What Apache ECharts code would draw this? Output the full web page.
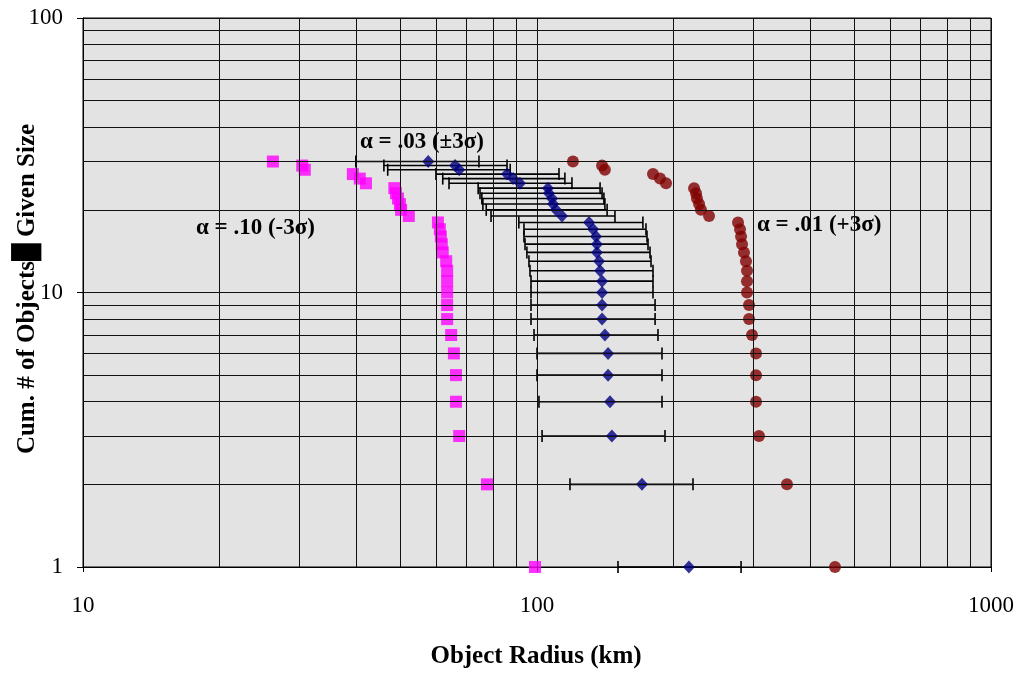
<!DOCTYPE html>
<html>
<head>
<meta charset="utf-8">
<script src="https://cdn.jsdelivr.net/npm/echarts@6/dist/echarts.min.js"></script>
<style>
html,body{margin:0;padding:0;background:#fff;}
#chart{width:1023px;height:675px;}
</style>
</head>
<body>
<div id="chart"></div>
<script>
// Cumulative number of objects (y values), largest count first
const cumCount = [30,29,28,27,26,25,24,23,22,21,20,19,18,17,16,15,14,13,12,11,10,9,8,7,6,5,4,3,2,1];
// alpha = .10 (-3 sigma) radii, km
const radiusA10 = [26.2,30.4,30.8,39.3,40.7,42.0,48.5,48.9,49.4,49.9,50.2,52.2,60.5,61.1,61.4,61.7,62.0,63.1,63.4,63.4,63.4,63.4,63.4,64.7,65.6,66.3,66.3,67.4,77.6,99.0];
// alpha = .03 radii with +/-3 sigma range, km
const radiusA03 = [57.6,66.0,67.4,85.9,88.6,91.7,105.7,106.2,107.9,108.5,110.1,113.5,130.2,132.9,134.9,135.5,135.5,137.0,137.7,139.1,139.1,139.1,139.1,141.1,143.4,143.4,144.8,146.2,170.3,216.1];
const lowA03 = [39.9,46.0,46.9,59.9,62.0,64.0,74.2,74.9,75.6,76.0,77.3,79.2,91.2,93.6,93.6,94.1,95.0,96.0,96.5,97.0,97.0,97.0,97.0,98.5,100.0,100.0,101.0,102.6,118.2,150.8];
const highA03 = [74.5,85.9,87.3,111.8,115.2,119.4,137.7,139.1,140.4,141.1,142.7,148.5,171.1,173.8,174.7,175.6,177.4,178.3,180.1,180.1,180.1,182.0,182.0,184.7,188.5,188.5,188.5,191.4,220.6,281.5];
// alpha = .01 (+3 sigma) radii, km
const radiusA01 = [120.0,139.1,141.1,180.1,186.6,192.4,221.8,224.0,225.1,227.5,229.7,239.3,277.2,280.0,281.5,282.9,285.7,288.6,290.1,290.1,290.1,293.1,293.1,297.6,303.7,303.7,303.7,308.3,355.3,453.3];
// minor grid values
const xMinor = [20,30,40,50,60,70,80,90,200,300,400,500,600,700,800,900];
const yMinor = [2,3,4,5,6,7,8,9,20,30,40,50,60,70,80,90];
const xTicks = [10,100,1000];
const yTicks = [1,10,100];

const serif = "'Liberation Serif','Times New Roman',serif";

const chart = echarts.init(document.getElementById('chart'), null, {renderer:'canvas'});

const zip = (xs) => xs.map((x,i)=>[x, cumCount[i]]);
const errData = cumCount.map((y,i)=>[lowA03[i], highA03[i], y]);

const gridLines = [];
xMinor.forEach(v=>gridLines.push({xAxis:v}));
yMinor.forEach(v=>gridLines.push({yAxis:v}));

const option = {
  animation:false,
  backgroundColor:'#ffffff',
  grid:{left:83,right:32,top:18,bottom:108,show:true,backgroundColor:'#e3e3e3',borderColor:'#000',borderWidth:1},
  xAxis:{
    type:'log', logBase:10, min:10, max:1000,
    axisLine:{show:true,lineStyle:{color:'#000',width:1}},
    axisTick:{show:true,length:5,lineStyle:{color:'#000'}},
    axisLabel:{color:'#000',fontFamily:serif,fontSize:23,margin:27,
      formatter:(v)=> xTicks.indexOf(Math.round(v))>=0 ? String(Math.round(v)) : ''},
    splitLine:{show:true,lineStyle:{color:'#111',width:1}},
    minorTick:{show:false}
  },
  yAxis:{
    type:'log', logBase:10, min:1, max:100,
    axisLine:{show:true,lineStyle:{color:'#000',width:1}},
    axisTick:{show:true,length:6,lineStyle:{color:'#000'}},
    axisLabel:{color:'#000',fontFamily:serif,fontSize:23,margin:20,
      formatter:(v)=> yTicks.indexOf(Math.round(v))>=0 ? String(Math.round(v)) : ''},
    splitLine:{show:true,lineStyle:{color:'#111',width:1}}
  },
  series:[
    {
      type:'line', data:[], silent:true,
      markLine:{silent:true,symbol:['none','none'],label:{show:false},
        lineStyle:{color:'#111',type:'solid',width:1},emphasis:{disabled:true},
        data:gridLines}
    },
    {
      type:'custom', name:'err', silent:true,
      encode:{x:[0,1],y:2},
      data:errData,
      renderItem:function(params, api){
        const y = api.value(2);
        const p1 = api.coord([api.value(0), y]);
        const p2 = api.coord([api.value(1), y]);
        const h = 6;
        const st = {stroke:'#000',lineWidth:1.6};
        return {type:'group',children:[
          {type:'line',shape:{x1:p1[0],y1:p1[1],x2:p2[0],y2:p2[1]},style:st},
          {type:'line',shape:{x1:p1[0],y1:p1[1]-h,x2:p1[0],y2:p1[1]+h},style:st},
          {type:'line',shape:{x1:p2[0],y1:p2[1]-h,x2:p2[0],y2:p2[1]+h},style:st}
        ]};
      }
    },
    {
      type:'scatter', name:'a10', data:zip(radiusA10),
      symbol:'rect', symbolSize:12, itemStyle:{color:'#ff00ff'}
    },
    {
      type:'scatter', name:'a03', data:zip(radiusA03),
      symbol:'diamond', symbolSize:[12,13], itemStyle:{color:'#000080'}
    },
    {
      type:'scatter', name:'a01', data:zip(radiusA01),
      symbol:'circle', symbolSize:12, itemStyle:{color:'#800000'}
    }
  ],
  graphic:[
    {type:'text',left:360,top:131,style:{text:'α = .03 (±3σ)',font:"bold 23px "+serif,fill:'#000'}},
    {type:'text',left:196,top:217,style:{text:'α = .10 (-3σ)',font:"bold 23px "+serif,fill:'#000'}},
    {type:'text',left:757,top:214,style:{text:'α = .01 (+3σ)',font:"bold 23px "+serif,fill:'#000'}},
    {type:'text',x:536,y:657,style:{text:'Object Radius (km)',font:"bold 25px "+serif,fill:'#000',align:'center',verticalAlign:'middle'}},
    {type:'text',x:28,y:289,rotation:Math.PI/2,style:{text:'Cum. # of Objects█ Given Size',font:"bold 25px "+serif,fill:'#000',align:'center',verticalAlign:'middle'}}
  ]
};
chart.setOption(option);
</script>
</body>
</html>
